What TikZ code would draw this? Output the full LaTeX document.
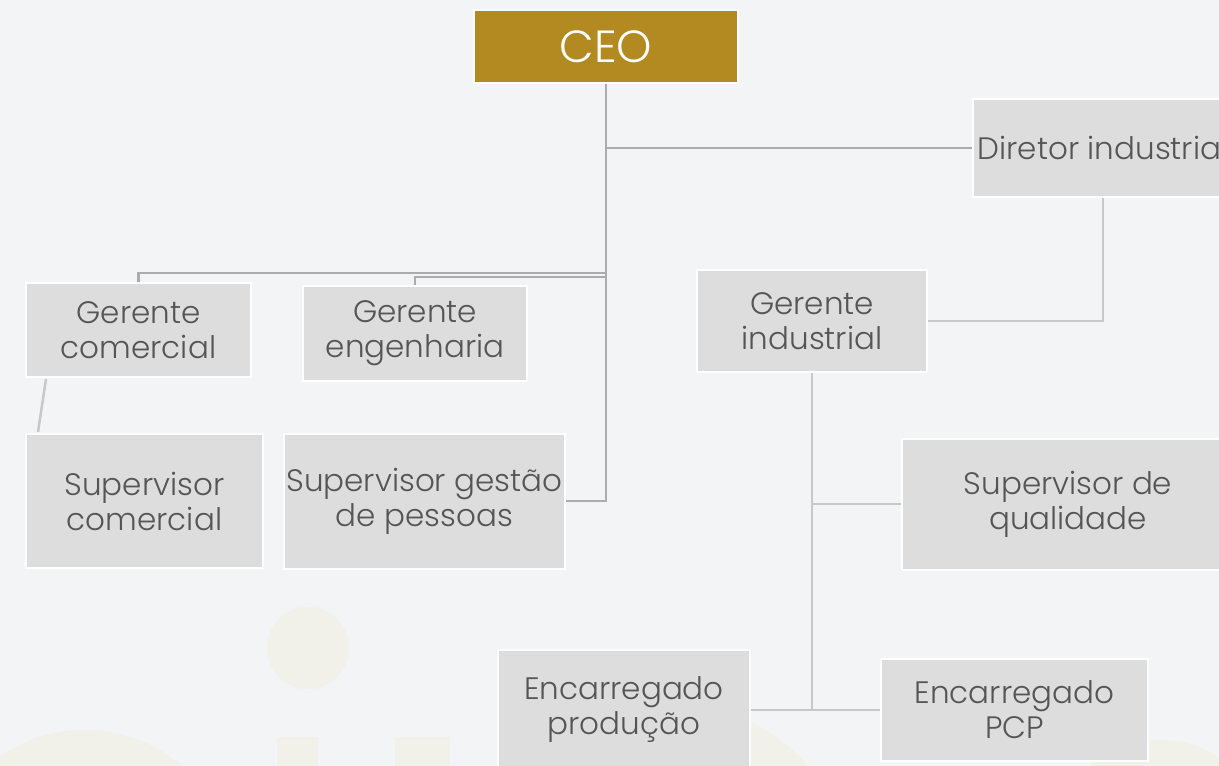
\documentclass[tikz,border=0pt]{standalone}
\usepackage{fontspec}
\setmainfont{Poppins}[UprightFont=* Light]
\usetikzlibrary{calc,positioning}
\definecolor{BgGray}{RGB}{243,244,246}
\definecolor{BoxGray}{RGB}{221,221,221}
\definecolor{Gold}{RGB}{179,138,34}
\definecolor{TextGray}{RGB}{85,85,85}
\definecolor{LineDark}{RGB}{172,172,172}
\definecolor{LineLight}{RGB}{200,200,200}
\definecolor{Mark}{RGB}{241,240,233}

\begin{document}
\begin{tikzpicture}[x=1pt,y=-1pt,
  box/.style={draw=white,line width=2pt,fill=BoxGray,text=TextGray,align=center,
    inner sep=0pt,font=\fontsize{31}{35}\selectfont},
  trunk/.style={LineDark,line width=2.5pt},
  branch/.style={LineLight,line width=2.5pt}]

\useasboundingbox (0,0) rectangle (1219,766);
\clip (0,0) rectangle (1219,766);
\fill[BgGray] (0,0) rectangle (1219,766);

% faint watermark
\fill[Mark] (308,648) circle (41);
\fill[Mark] (85,880) circle (150);
\fill[Mark] (277,737) rectangle (318,766);
\fill[Mark] (395,737) rectangle (450,766);
\fill[Mark] (660,900) circle (200);
\fill[Mark] (1160,850) circle (110);

\node[box,fill=Gold,text=white,minimum width=264,minimum height=73,
  font=\fontsize{45}{48}\selectfont] (ceo) at (606,46.5) {CEO};
\node[box,minimum width=260,minimum height=98] (dir) at (1103,148) {Diretor industrial};
\node[box,minimum width=225,minimum height=94] (gcom) at (138.5,330) {Gerente\\comercial};
\node[box,minimum width=224,minimum height=95] (geng) at (415,333.5) {Gerente\\engenharia};
\node[box,minimum width=230,minimum height=102] (gind) at (812,321) {Gerente\\industrial};
\node[box,minimum width=237,minimum height=134] (scom) at (144.5,501) {Supervisor\\comercial};
\node[box,minimum width=281,minimum height=135] (sgp) at (424.5,501) {Supervisor gestão\\de pessoas};
\node[box,minimum width=332,minimum height=131] (squal) at (1068,504) {Supervisor de\\qualidade};
\node[box,minimum width=252,minimum height=120] (eprod) at (624,710) {Encarregado\\produção};
\node[box,minimum width=267,minimum height=102] (epcp) at (1014.5,710) {Encarregado\\PCP};

\draw[trunk] (ceo.south) |- (sgp.east);
\draw[trunk] (ceo.south |- dir.west) -- (dir.west);
\draw[trunk] (ceo.south |- 0,273) -| (gcom.north);
\draw[trunk] (ceo.south |- 0,277) -| (geng.north);

\draw[branch] (dir.south) |- (gind.east);
\draw[branch] ($(gcom.south west)+(21,1)$) -- ($(scom.north west)+(13,-1)$);
\draw[branch] (gind.south) |- (squal.west);
\draw[branch] (gind.south) |- (epcp.west);
\draw[branch] (eprod.east) -- (gind.south |- eprod.east);

\end{tikzpicture}
\end{document}
